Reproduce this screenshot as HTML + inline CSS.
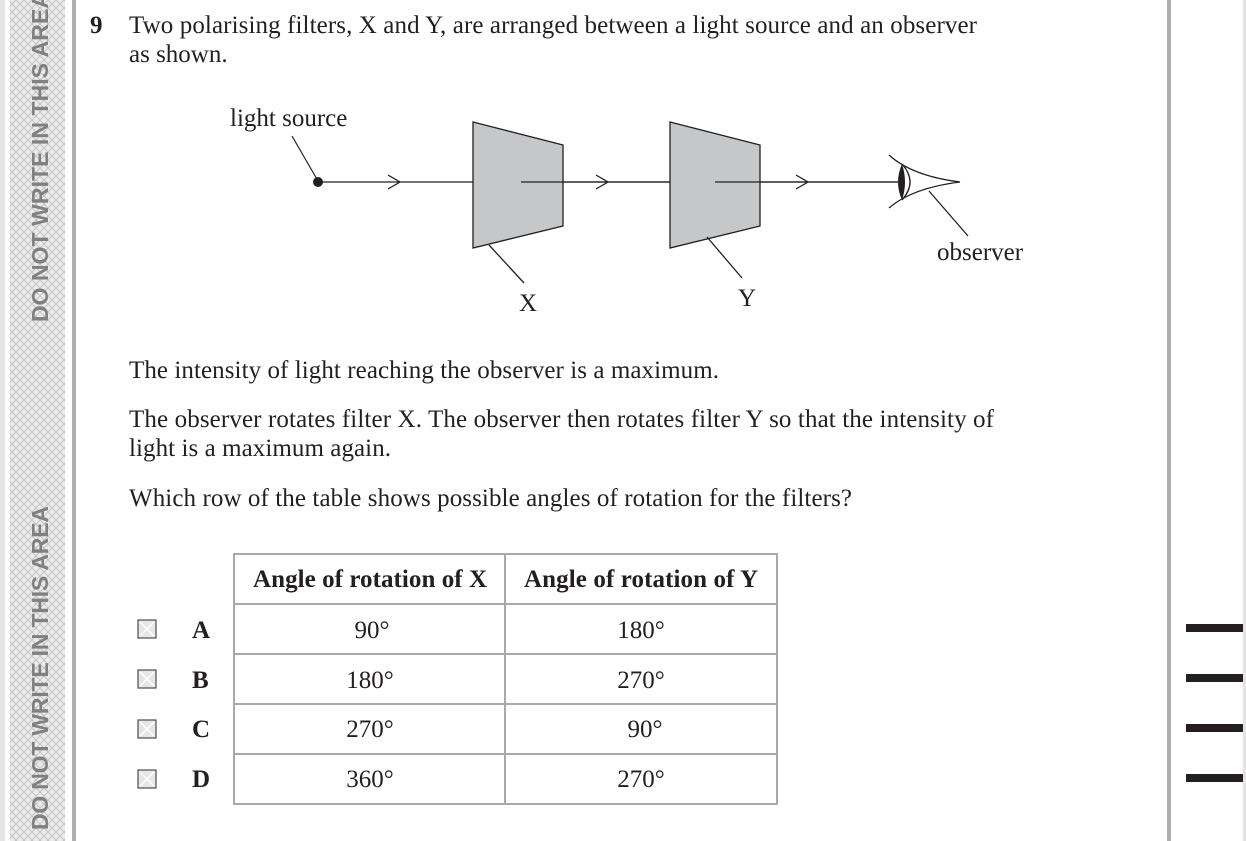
<!DOCTYPE html>
<html><head><meta charset="utf-8"><style>
html,body{margin:0;padding:0;background:#fff;}
svg{display:block;}
.t{font-family:"Liberation Serif",serif;font-size:25px;fill:#231f20;}
.b{font-family:"Liberation Serif",serif;font-size:25px;font-weight:bold;fill:#231f20;}
.w{font-family:"Liberation Sans",sans-serif;font-size:23px;font-weight:bold;fill:#808080;}
</style></head><body>
<svg width="1246" height="841" viewBox="0 0 1246 841" xmlns="http://www.w3.org/2000/svg">
<defs>
<pattern id="h" width="8" height="8" patternUnits="userSpaceOnUse">
<rect width="8" height="8" fill="#ebebeb"/>
<path d="M0 0L8 8M8 0L0 8" stroke="#bdbdbd" stroke-width="0.8"/>
</pattern>
</defs>
<rect x="0" y="0" width="5" height="841" fill="#e6e6e6"/>
<rect x="10" y="0" width="55" height="841" fill="url(#h)"/>
<rect x="72" y="0" width="4" height="841" fill="#aeaeb0"/>
<rect x="1167" y="0" width="4" height="841" fill="#aeaeb0"/>
<rect x="1243" y="0" width="3" height="841" fill="#e3e3e3"/>
<text class="w" transform="translate(48,322) rotate(-90)" textLength="330">DO NOT WRITE IN THIS AREA</text>
<text class="w" transform="translate(48,830) rotate(-90)" textLength="324">DO NOT WRITE IN THIS AREA</text>
<g fill="#231f20">
<rect x="1186" y="624" width="57" height="8"/>
<rect x="1186" y="674" width="57" height="8"/>
<rect x="1186" y="724" width="57" height="8"/>
<rect x="1186" y="774" width="57" height="8"/>
</g>
<text class="b" x="90" y="33">9</text>
<text class="t" x="129" y="33" textLength="848">Two polarising filters, X and Y, are arranged between a light source and an observer</text>
<text class="t" x="129" y="62">as shown.</text>
<!-- diagram -->
<text class="t" x="230" y="126">light source</text>
<line x1="292" y1="136" x2="318" y2="181" stroke="#231f20" stroke-width="1.2"/>
<circle cx="318" cy="182" r="5" fill="#231f20"/>
<line x1="318" y1="182" x2="900" y2="182" stroke="#231f20" stroke-width="1.3"/>
<polygon points="473,122 563,145 563,226 473,248" fill="#c6c7c9" stroke="#231f20" stroke-width="1.3"/>
<polygon points="670,122 760,145 760,226 670,248" fill="#c6c7c9" stroke="#231f20" stroke-width="1.3"/>
<line x1="521" y1="182" x2="670" y2="182" stroke="#231f20" stroke-width="1.3"/>
<line x1="715" y1="182" x2="900" y2="182" stroke="#231f20" stroke-width="1.3"/>
<g fill="none" stroke="#231f20" stroke-width="1.3">
<path d="M388 175L400 182L388 189"/>
<path d="M596 175L608 182L596 189"/>
<path d="M796 175L808 182L796 189"/>
<line x1="489" y1="245" x2="524" y2="283"/>
<line x1="707" y1="237" x2="742" y2="278"/>
<path d="M889 155Q912 176 960 182Q912 188 889 208"/>
<path d="M902 164Q918 182 902 200"/>
<line x1="929" y1="191" x2="968" y2="236"/>
</g>
<path d="M902 164Q894 182 902 200Q908 182 902 164Z" fill="#231f20"/>
<text class="t" x="519" y="311">X</text>
<text class="t" x="738" y="306">Y</text>
<text class="t" x="937" y="260">observer</text>
<text class="t" x="129" y="378" textLength="590">The intensity of light reaching the observer is a maximum.</text>
<text class="t" x="129" y="427" textLength="865">The observer rotates filter X. The observer then rotates filter Y so that the intensity of</text>
<text class="t" x="129" y="456" textLength="262">light is a maximum again.</text>
<text class="t" x="129" y="506" textLength="723">Which row of the table shows possible angles of rotation for the filters?</text>
<!-- table -->
<g stroke="#a7a9ac" stroke-width="2" fill="none">
<rect x="234" y="554" width="543" height="250"/>
<line x1="505" y1="554" x2="505" y2="804"/>
<line x1="234" y1="604" x2="777" y2="604"/>
<line x1="234" y1="654" x2="777" y2="654"/>
<line x1="234" y1="704" x2="777" y2="704"/>
<line x1="234" y1="754" x2="777" y2="754"/>
</g>
<text class="b" x="370" y="587" text-anchor="middle" textLength="234">Angle of rotation of X</text>
<text class="b" x="641" y="587" text-anchor="middle" textLength="234">Angle of rotation of Y</text>
<text class="t" x="372" y="638" text-anchor="middle">90°</text>
<text class="t" x="641" y="638" text-anchor="middle">180°</text>
<text class="t" x="370" y="688" text-anchor="middle">180°</text>
<text class="t" x="641" y="688" text-anchor="middle">270°</text>
<text class="t" x="370" y="737" text-anchor="middle">270°</text>
<text class="t" x="645" y="737" text-anchor="middle">90°</text>
<text class="t" x="370" y="787" text-anchor="middle">360°</text>
<text class="t" x="641" y="787" text-anchor="middle">270°</text>
<g>
<g transform="translate(138,620)"><rect width="18" height="18" fill="#e6e6e6" stroke="#58595b" stroke-width="1.3"/><path d="M2 2L16 16M16 2L2 16" stroke="#fff" stroke-width="1.5"/></g>
<g transform="translate(138,670)"><rect width="18" height="18" fill="#e6e6e6" stroke="#58595b" stroke-width="1.3"/><path d="M2 2L16 16M16 2L2 16" stroke="#fff" stroke-width="1.5"/></g>
<g transform="translate(138,720)"><rect width="18" height="18" fill="#e6e6e6" stroke="#58595b" stroke-width="1.3"/><path d="M2 2L16 16M16 2L2 16" stroke="#fff" stroke-width="1.5"/></g>
<g transform="translate(138,770)"><rect width="18" height="18" fill="#e6e6e6" stroke="#58595b" stroke-width="1.3"/><path d="M2 2L16 16M16 2L2 16" stroke="#fff" stroke-width="1.5"/></g>
</g>
<text class="b" x="192" y="638">A</text>
<text class="b" x="192" y="688">B</text>
<text class="b" x="192" y="737">C</text>
<text class="b" x="192" y="787">D</text>
</svg>
</body></html>
